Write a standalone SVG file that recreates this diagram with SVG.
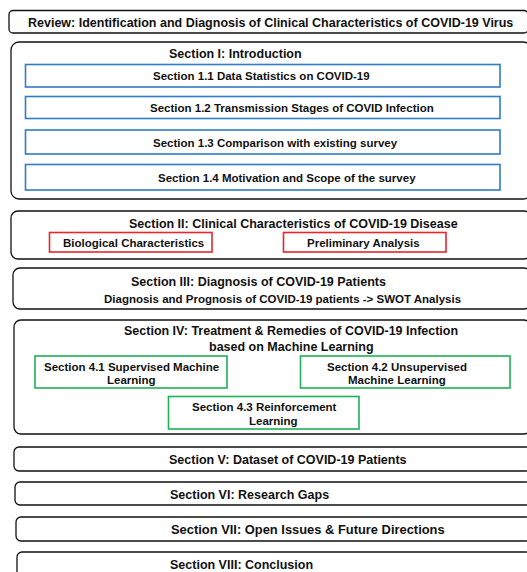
<svg xmlns="http://www.w3.org/2000/svg" width="527" height="572" viewBox="0 0 527 572">
<style>
text{font-family:"Liberation Sans",Arial,sans-serif;font-weight:bold;font-size:11.5px;fill:#111}
text.h{font-size:12.5px}
.sec{fill:#fff;stroke:#111;stroke-width:1.3}
.blue{fill:#fff;stroke:#2f7cc8;stroke-width:1.6}
.red{fill:#fff;stroke:#e8262b;stroke-width:1.6}
.green{fill:#fff;stroke:#1fb155;stroke-width:1.6}
</style>
<rect width="527" height="572" fill="#fff"/>
<g id="title">
<rect class="sec" x="9" y="10.5" width="519" height="22.5" rx="4"/>
<text class="h" x="28" y="26.5">Review: Identification and Diagnosis of Clinical Characteristics of COVID-19 Virus</text>
</g>
<g id="sec1">
<rect class="sec" x="11" y="42" width="520" height="157" rx="8"/>
<text class="h" x="169" y="57.5">Section I: Introduction</text>
</g>
<g id="sec1_1">
<rect class="blue" x="25.5" y="64.5" width="474.5" height="22.5"/>
<text x="153" y="79.5">Section 1.1 Data Statistics on COVID-19</text>
</g>
<g id="sec1_2">
<rect class="blue" x="25.5" y="96.5" width="474.5" height="22"/>
<text x="150" y="112">Section 1.2 Transmission Stages of COVID Infection</text>
</g>
<g id="sec1_3">
<rect class="blue" x="25.5" y="130" width="474.5" height="24"/>
<text x="153" y="147">Section 1.3 Comparison with existing survey</text>
</g>
<g id="sec1_4">
<rect class="blue" x="25.5" y="164.5" width="474.5" height="25.5"/>
<text x="158" y="181.5">Section 1.4 Motivation and Scope of the survey</text>
</g>
<g id="sec2">
<rect class="sec" x="11" y="211" width="520" height="48" rx="7"/>
<text class="h" x="129" y="227.5">Section II: Clinical Characteristics of COVID-19 Disease</text>
</g>
<g id="bio">
<rect class="red" x="49.5" y="232.5" width="162.5" height="19.5"/>
<text x="63" y="247">Biological Characteristics</text>
</g>
<g id="prelim">
<rect class="red" x="283.5" y="232.5" width="162.5" height="19.5"/>
<text x="307" y="247">Preliminary Analysis</text>
</g>
<g id="sec3">
<rect class="sec" x="13" y="268" width="518" height="41" rx="7"/>
<text class="h" x="131" y="286">Section III: Diagnosis of COVID-19 Patients</text>
<text x="104" y="302.5">Diagnosis and Prognosis of COVID-19 patients -&gt; SWOT Analysis</text>
</g>
<g id="sec4">
<rect class="sec" x="14" y="320" width="517" height="114" rx="7"/>
<text class="h" x="124" y="334.5">Section IV: Treatment &amp; Remedies of COVID-19 Infection</text>
<text class="h" x="209" y="351">based on Machine Learning</text>
</g>
<g id="sec4_1">
<rect class="green" x="35" y="356" width="192" height="32"/>
<text x="44" y="370.5">Section 4.1 Supervised Machine</text>
<text x="107" y="383.5">Learning</text>
</g>
<g id="sec4_2">
<rect class="green" x="300.5" y="356" width="209.5" height="32"/>
<text x="327" y="370.5">Section 4.2 Unsupervised</text>
<text x="348" y="383.5">Machine Learning</text>
</g>
<g id="sec4_3">
<rect class="green" x="168.5" y="396.5" width="190.5" height="32.5"/>
<text x="192" y="410.5">Section 4.3 Reinforcement</text>
<text x="249" y="424.5">Learning</text>
</g>
<g id="sec5">
<rect class="sec" x="14" y="447" width="517" height="24" rx="5"/>
<text class="h" x="169" y="464">Section V: Dataset of COVID-19 Patients</text>
</g>
<g id="sec6">
<rect class="sec" x="15" y="482" width="516" height="23" rx="5"/>
<text class="h" x="170" y="498.5">Section VI: Research Gaps</text>
</g>
<g id="sec7">
<rect class="sec" x="16" y="517" width="515" height="24" rx="5"/>
<text class="h" x="171" y="534" style="font-size:12.9px">Section VII: Open Issues &amp; Future Directions</text>
</g>
<g id="sec8">
<rect class="sec" x="17" y="552" width="514" height="30" rx="5"/>
<text class="h" x="170" y="569">Section VIII: Conclusion</text>
</g>
<g id="connectors"/>
</svg>
